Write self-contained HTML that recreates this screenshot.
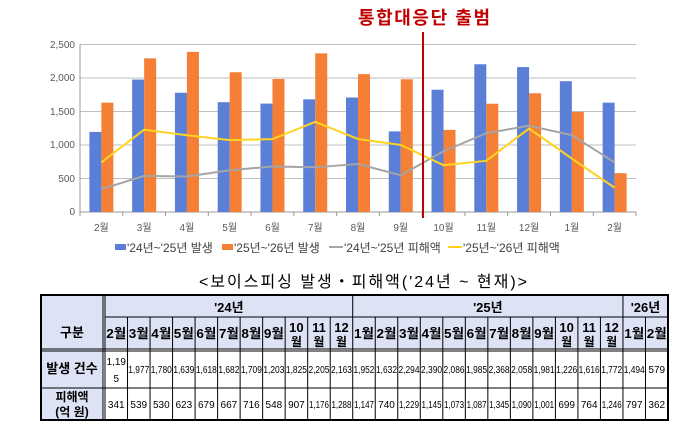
<!DOCTYPE html>
<html><head><meta charset="utf-8"><style>
body{margin:0;background:#fff;width:692px;height:435px;overflow:hidden}
svg{display:block}
text{font-family:"Liberation Sans","Noto Sans CJK KR",sans-serif}
</style></head><body>
<svg width="692" height="435" viewBox="0 0 692 435" xmlns="http://www.w3.org/2000/svg">
<text x="358" y="24" font-size="18" font-weight="bold" fill="#c00000" textLength="132">통합대응단 출범</text>
<g stroke="#bfbfbf" stroke-width="1">
<line x1="80" y1="44.5" x2="636" y2="44.5"/><line x1="80" y1="78" x2="636" y2="78"/><line x1="80" y1="111.5" x2="636" y2="111.5"/><line x1="80" y1="145" x2="636" y2="145"/><line x1="80" y1="178.5" x2="636" y2="178.5"/>
<line x1="80" y1="212" x2="636" y2="212" stroke="#999"/>
<line x1="80" y1="44" x2="80" y2="216" stroke="#999"/>
</g>
<g font-size="10" fill="#595959" text-anchor="end">
<text x="75" y="48">2,500</text><text x="75" y="81">2,000</text><text x="75" y="115">1,500</text><text x="75" y="148">1,000</text><text x="75" y="182">500</text><text x="75" y="215">0</text>
</g>
<g id="bars"></g>
<g id="ticks" stroke="#999"></g>
<g id="labels" font-size="10" fill="#595959" text-anchor="middle"></g>
<polyline id="gray" fill="none" stroke="#a5a5a5" stroke-width="2"/>
<polyline id="yel" fill="none" stroke="#ffd320" stroke-width="2"/>
<line x1="423" y1="32" x2="423" y2="218" stroke="#c00000" stroke-width="2"/>
<g font-size="12" fill="#404040">
<rect x="115" y="244" width="11" height="6" fill="#5b7fd6"/><text x="127" y="252">'24년~'25년 발생</text>
<rect x="222" y="244" width="11" height="6" fill="#f47f35"/><text x="234" y="252">'25년~'26년 발생</text>
<line x1="329" y1="247" x2="343" y2="247" stroke="#a5a5a5" stroke-width="2"/><text x="344" y="252">'24년~'25년 피해액</text>
<line x1="448" y1="247" x2="462" y2="247" stroke="#ffd320" stroke-width="2"/><text x="463" y="252">'25년~'26년 피해액</text>
</g>
<text x="199" y="287" font-size="16" fill="#000" textLength="328">&lt;보이스피싱 발생・피해액('24년 ~ 현재)&gt;</text>
<g id="table"></g>
</svg>
<script>
var ns="http://www.w3.org/2000/svg";
function el(p,t,a,txt){var e=document.createElementNS(ns,t);for(var k in a)e.setAttribute(k,a[k]);if(txt!=null)e.textContent=txt;document.getElementById(p).appendChild(e);return e;}
var B=[1195,1977,1780,1639,1618,1682,1709,1203,1825,2205,2163,1952,1632];
var O=[1632,2294,2390,2086,1985,2368,2058,1981,1226,1616,1772,1494,579];
var G=[341,539,530,623,679,667,716,548,907,1176,1288,1147,740];
var Y=[740,1229,1145,1073,1087,1345,1090,1001,699,764,1246,797,362];
var M=["2월","3월","4월","5월","6월","7월","8월","9월","10월","11월","12월","1월","2월"];
var w=556/13,y0=212,s=167.5/2500,gp=[],yp=[];
for(var i=0;i<13;i++){var c=80+w*(i+0.5);
el("bars","rect",{x:c-12,y:y0-B[i]*s,width:12,height:B[i]*s,fill:"#5b7fd6"});
el("bars","rect",{x:c,y:y0-O[i]*s,width:12,height:O[i]*s,fill:"#f47f35"});
el("ticks","line",{x1:80+w*(i+1),y1:212,x2:80+w*(i+1),y2:216});
el("labels","text",{x:c,y:231},M[i]);
gp.push(c+","+(y0-G[i]*s));yp.push(c+","+(y0-Y[i]*s));}
document.getElementById("gray").setAttribute("points",gp.join(" "));
document.getElementById("yel").setAttribute("points",yp.join(" "));
// table
var L=41,R=668,T=295,r1=317,r2=349,r3=388,Bt=420,c1=103,cs=(R-105)/25;
var hdr="#dde3f4";
el("table","rect",{x:L,y:T,width:R-L,height:r2-T,fill:hdr});
el("table","rect",{x:L,y:T,width:c1-L,height:Bt-T,fill:hdr});
var st={stroke:"#000","stroke-width":1,fill:"none"};
function ln(x1,y1,x2,y2,sw){el("table","line",{x1:x1,y1:y1,x2:x2,y2:y2,stroke:"#000","stroke-width":sw||1});}
el("table","rect",{x:L,y:T,width:R-L,height:Bt-T,stroke:"#000","stroke-width":2,fill:"none"});
ln(c1,T,c1,Bt,1);ln(105,T,105,Bt,1);
ln(105,r1,R,r1);ln(L,r2,R,r2,1);ln(L,r2+2,R,r2+2,1);ln(L,r3,R,r3);
var y25=105+cs*11,y26=105+cs*23;
ln(y25,T,y25,r1);ln(y26,T,y26,r1);
for(var j=1;j<25;j++){var x=105+cs*j;ln(x,r1,x,Bt);}
function t(x,y,s,txt,b,len){var a={x:x,y:y,"font-size":s,"text-anchor":"middle"};if(b)a["font-weight"]="bold";if(len){a.textLength=len;a.lengthAdjust="spacingAndGlyphs";}el("table","text",a,txt);}
t(72,337,13,"구분",true);t(72,373,13,"발생 건수",true);t(72,401,12,"피해액",true);t(72,416,12,"(억 원)",true);
t((105+y25)/2,312,13,"'24년",true);t((y25+y26)/2,312,13,"'25년",true);t((y26+R)/2,312,13,"'26년",true);
var mm=["2","3","4","5","6","7","8","9","10","11","12","1","2","3","4","5","6","7","8","9","10","11","12","1","2"];
var occ=["1,19\n5","1,977","1,780","1,639","1,618","1,682","1,709","1,203","1,825","2,205","2,163","1,952","1,632","2,294","2,390","2,086","1,985","2,368","2,058","1,981","1,226","1,616","1,772","1,494","579"];
var dmg=["341","539","530","623","679","667","716","548","907","1,176","1,288","1,147","740","1,229","1,145","1,073","1,087","1,345","1,090","1,001","699","764","1,246","797","362"];
for(var j=0;j<25;j++){var cx=105+cs*(j+0.5);
if(mm[j].length==2){t(cx,332,13,mm[j],true);t(cx,346,12,"월",true);}else t(cx,338,13,mm[j]+"월",true,20);
if(j==0){t(cx,365,10,"1,19");t(cx,382,10,"5");}else t(cx,373,10,occ[j],false,occ[j].length>3?21:null);
t(cx,408,10,dmg[j],false,dmg[j].length>3?20:null);}
</script>
</body></html>
